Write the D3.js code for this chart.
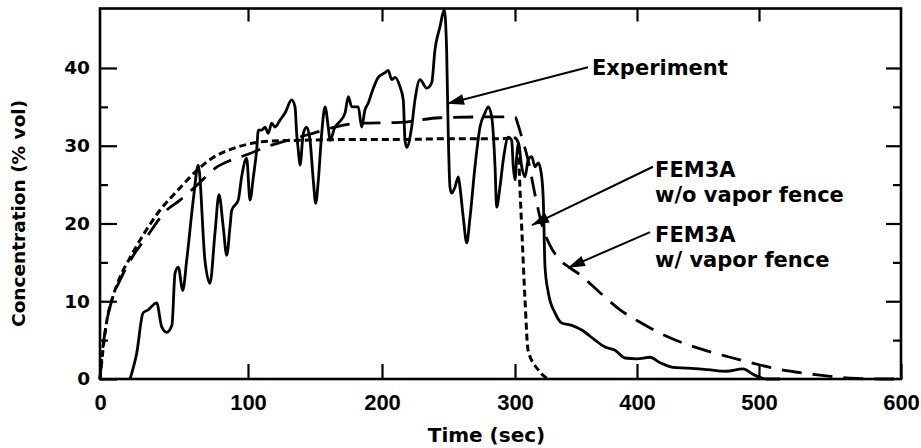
<!DOCTYPE html>
<html><head><meta charset="utf-8">
<script src="https://cdn.jsdelivr.net/npm/d3@7"></script>
<style>body{margin:0;background:#fff}svg{display:block}</style>
</head><body>
<svg id="chart" width="921" height="448"></svg>
<script>
// ---- data ----
const timeTicks = [0, 100, 200, 300, 400, 500, 600];
const concTicks = [0, 10, 20, 30, 40];
const concMinorTicks = [5, 15, 25, 35];
const xLabel = "Time (sec)";
const yLabel = "Concentration (% vol)";

const expTime = [20.3,24.8,29.1,32.6,38.3,41.7,45.1,48.6,50.7,52.9,
  55.9,58.6,63.0,66.4,70.9,74.3,77.7,80.4,83.3,85.6,
  87.8,89.0,93.4,95.7,99.1,101.5,104.0,106.5,107.7,110.2,
  112.7,115.1,117.7,120.1,123.9,127.6,132.6,135.1,136.3,137.5,
  138.8,141.3,143.8,146.3,148.7,150.5,152.5,155.0,157.5,159.9,
  161.2,164.9,167.4,172.4,174.9,177.4,182.3,184.8,187.3,189.8,
  192.3,197.2,202.3,204.7,207.3,209.8,213.5,216.0,217.3,218.6,
  222.3,224.8,228.6,233.6,237.4,239.8,243.6,246.8,248.6,249.8,
  251.1,252.4,254.9,257.4,258.6,261.1,263.7,266.2,269.9,273.7,
  277.4,279.9,282.5,285.0,286.2,288.7,291.2,295.0,297.5,298.7,
  300.0,301.4,302.7,305.5,308.2,310.9,313.7,316.4,319.1,321.9,
  323.2,324.6,327.3,332.8,338.3,346.5,354.7,365.6,373.8,382.0,
  390.2,399.8,410.7,418.9,429.5,441.8,458.2,473.0,486.9,495.1,
  505.4,514.8];
const expConc = [0,3.3,8.5,8.9,9.8,6.7,6.0,6.9,13.6,14.4,
  11.4,15.3,23.0,27.5,15.3,12.3,18.8,23.7,19.5,15.9,
  19.5,21.7,23.0,26.0,28.4,23.0,26.0,29.5,32.0,32.0,
  32.4,31.6,32.9,32.4,33.3,34.2,35.9,35.0,31.6,29.5,
  27.5,31.6,32.4,30.7,25.6,22.6,25.6,31.6,35.0,32.4,
  30.7,32.4,32.9,34.2,36.3,35.0,35.0,32.4,34.6,35.5,
  36.8,38.8,39.4,39.7,38.5,38.8,37.6,35.9,30.7,29.8,
  32.4,35.9,38.5,37.4,38.1,42.3,45.3,47.5,42.3,31.6,
  24.7,23.9,24.7,26.0,24.7,20.8,17.5,20.8,27.3,32.4,
  34.2,35.0,33.7,27.3,22.1,24.7,28.2,31.1,30.7,27.3,
  25.6,28.6,30.4,27.3,26.0,28.2,28.6,27.3,27.8,26.0,
  23.0,14.4,11.1,8.5,7.2,6.9,6.3,5.0,4.1,3.7,
  2.7,2.6,2.8,2.1,1.5,1.4,1.2,1.0,1.3,0.6,
  0,0];

// FEM3A without vapor fence (short dashes)
const noFenceTime = [0,2,4.7,8.1,13.5,20.3,30.4,40.5,52.7,64.2,
  75.7,87.8,100,116.4,138.8,176,213.5,251,288.7,300,
  302.5,304,305.7,308.2,310.7,318.9,327];
const noFenceConc = [0,3.7,7.6,10.2,13.1,15.6,18.9,21.7,24.3,26.6,
  28.4,29.5,30.2,30.6,30.7,30.8,30.8,30.9,30.9,31.0,
  30.4,24.7,18.8,10.2,3.7,1.2,0];

// FEM3A with vapor fence (long dashes)
const fenceTime = [0,1.4,4.1,8.1,13.5,21.6,32.4,43.9,54.1,67.6,
  77.7,89.2,100,112.7,127.6,146.3,164.9,183.6,213.5,243.6,
  273.7,300,302.5,305.7,310.7,316.4,322.1,328.7,336.9,345.1,
  353.3,369.7,386.1,402.5,427,451.6,476.2,500.7,521.8,542.9,
  564.1,585.2,599.3];
const fenceConc = [0,3.1,6.9,10.2,12.7,15.6,18.5,21.5,23.0,25.3,
  27.1,28.2,28.9,29.8,30.6,31.5,32.4,32.9,33.0,33.6,
  33.7,33.7,32.7,31.0,28.2,23.7,19.8,17.2,15.3,14.3,
  13.4,11.1,8.9,7.3,5.3,3.9,2.8,1.8,1.0,0.5,
  0.1,0,0];

// annotations (data coordinates)
const annotations = [
  {lines: ["Experiment"], text: [363.1, 39.1], tail: [359.8, 40.1], tip: [248.9, 35.4]},
  {lines: ["FEM3A", "w/o vapor fence"], text: [414.8, 26.0], tail: [413.1, 27.3], tip: [313.9, 19.8]},
  {lines: ["FEM3A", "w/ vapor fence"], text: [414.8, 17.6], tail: [410.7, 18.9], tip: [343.4, 14.3]}
];

// ---- drawing ----
const svg = d3.select("#chart");
const xRange = [100, 248, 382, 515, 637, 759, 901]; // scanned axis is slightly non-uniform
const x = d3.scaleLinear().domain(timeTicks).range(xRange);
const yMax = 47.65;
const y = d3.scaleLinear().domain([0, yMax]).range([379, 8.5]);

const wide = "'DejaVu Sans', sans-serif";
const narrow = "'Liberation Sans', Arial, sans-serif";

function styleAxis(g) {
  g.select(".domain").remove();
  g.selectAll(".tick line").attr("stroke", "#000").attr("stroke-width", 2.2);
}

// bottom axis (labels + inward ticks)
const gb = svg.append("g").attr("transform", `translate(0,${y(0)})`)
  .call(d3.axisBottom(x).tickValues(timeTicks).tickSizeInner(-15).tickSizeOuter(0).tickPadding(15));
styleAxis(gb);
gb.selectAll(".tick text").attr("font-family", narrow).attr("font-weight", "bold")
  .attr("font-size", 22).attr("fill", "#000");

// top axis ticks
const gt = svg.append("g").attr("transform", `translate(0,${y(yMax)})`)
  .call(d3.axisTop(x).tickValues(timeTicks.slice(1, -1)).tickSizeInner(-13).tickSizeOuter(0).tickFormat(""));
styleAxis(gt);

// left axis
const gl = svg.append("g").attr("transform", `translate(${x(0)},0)`)
  .call(d3.axisLeft(y).tickValues(concTicks).tickSizeInner(-17).tickSizeOuter(0).tickPadding(10));
styleAxis(gl);
gl.selectAll(".tick text").attr("font-family", wide).attr("font-weight", "bold")
  .attr("font-size", 18.5).attr("fill", "#000");
const glm = svg.append("g").attr("transform", `translate(${x(0)},0)`)
  .call(d3.axisLeft(y).tickValues(concMinorTicks).tickSizeInner(-8).tickSizeOuter(0).tickFormat(""));
styleAxis(glm);

// right axis
const gr = svg.append("g").attr("transform", `translate(${x(600)},0)`)
  .call(d3.axisRight(y).tickValues(concTicks.slice(1)).tickSizeInner(-15).tickSizeOuter(0).tickFormat(""));
styleAxis(gr);
const grm = svg.append("g").attr("transform", `translate(${x(600)},0)`)
  .call(d3.axisRight(y).tickValues(concMinorTicks).tickSizeInner(-8).tickSizeOuter(0).tickFormat(""));
styleAxis(grm);

// frame
svg.append("rect")
  .attr("x", x(0)).attr("y", y(yMax))
  .attr("width", x(600) - x(0)).attr("height", y(0) - y(yMax))
  .attr("fill", "none").attr("stroke", "#000").attr("stroke-width", 2.6);

// axis titles
svg.append("text").attr("x", (x(0) + x(600)) / 2 - 14).attr("y", 442)
  .attr("text-anchor", "middle").attr("font-family", wide).attr("font-weight", "bold")
  .attr("font-size", 20).text(xLabel);
svg.append("text").attr("transform", `translate(25,${y(21.3)}) rotate(-90)`)
  .attr("text-anchor", "middle").attr("font-family", wide).attr("font-weight", "bold")
  .attr("font-size", 18.5).text(yLabel);

// series
function series(ts, vs) { return ts.map((t, i) => [t, vs[i]]); }
const line = d3.line().x(d => x(d[0])).y(d => y(d[1])).curve(d3.curveMonotoneX);

svg.append("path").datum(series(fenceTime, fenceConc))
  .attr("d", line).attr("fill", "none").attr("stroke", "#000")
  .attr("stroke-width", 2.8).attr("stroke-dasharray", "20,11");
svg.append("path").datum(series(noFenceTime, noFenceConc))
  .attr("d", line).attr("fill", "none").attr("stroke", "#000")
  .attr("stroke-width", 3).attr("stroke-dasharray", "7,4");
svg.append("path").datum(series(expTime, expConc))
  .attr("d", line).attr("fill", "none").attr("stroke", "#000")
  .attr("stroke-width", 2.8).attr("stroke-linejoin", "round");

// annotations
annotations.forEach(a => {
  const tx = x(a.tail[0]), ty = y(a.tail[1]);
  const px = x(a.tip[0]), py = y(a.tip[1]);
  svg.append("line").attr("x1", tx).attr("y1", ty).attr("x2", px).attr("y2", py)
    .attr("stroke", "#000").attr("stroke-width", 2);
  const ang = Math.atan2(ty - py, tx - px);
  const L = 17, W = 5.5;
  const bx = px + L * Math.cos(ang), by = py + L * Math.sin(ang);
  const pts = [[px, py],
    [bx + W * Math.sin(ang), by - W * Math.cos(ang)],
    [bx - W * Math.sin(ang), by + W * Math.cos(ang)]];
  svg.append("polygon").attr("points", pts.map(p => p.join(",")).join(" ")).attr("fill", "#000");
  const t = svg.append("text").attr("x", x(a.text[0])).attr("y", y(a.text[1]))
    .attr("font-family", wide).attr("font-weight", "bold").attr("font-size", 21);
  a.lines.forEach((s, i) => {
    t.append("tspan").attr("x", x(a.text[0])).attr("dy", i === 0 ? 0 : 25).text(s);
  });
});
</script>
</body></html>
